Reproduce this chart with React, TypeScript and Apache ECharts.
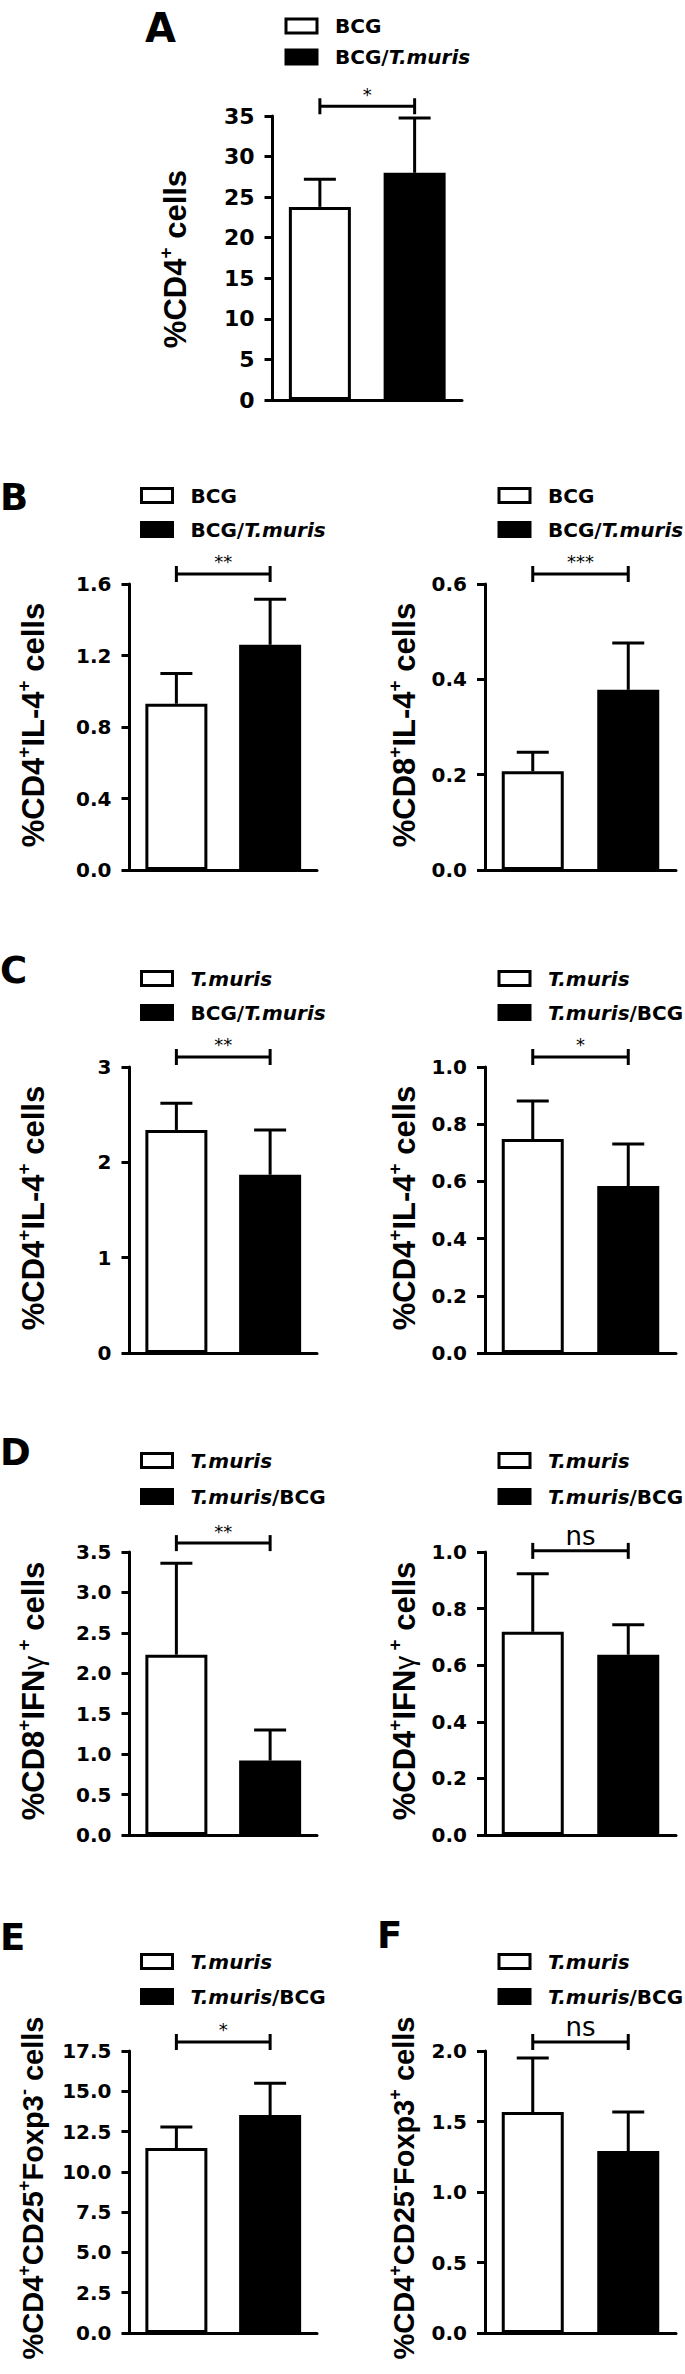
import React, { useEffect, useRef } from 'react';
import * as echarts from 'echarts';

// ---------------- data ----------------
const groupsA = ['BCG', 'BCG/T.muris'];
const groupsB = ['BCG', 'BCG/T.muris'];
const groupsC1 = ['T.muris', 'BCG/T.muris'];
const groupsTm = ['T.muris', 'T.muris/BCG'];

const meanA = [23.8, 28.0];
const semA = [3.4, 6.75];
const meanB1 = [0.93, 1.26];
const semB1 = [0.17, 0.255];
const meanB2 = [0.207, 0.378];
const semB2 = [0.04, 0.098];
const meanC1 = [2.34, 1.87];
const semC1 = [0.28, 0.47];
const meanC2 = [0.748, 0.584];
const semC2 = [0.133, 0.147];
const meanD1 = [2.23, 0.92];
const semD1 = [1.13, 0.38];
const meanD2 = [0.718, 0.637];
const semD2 = [0.205, 0.106];
const meanE = [11.48, 13.53];
const semE = [1.3, 1.97];
const meanF = [1.567, 1.29];
const semF = [0.383, 0.277];

const sigLabels = ['*', '**', '***', '**', '*', '**', 'ns', '*', 'ns'];
const sigLevels = [36.2, 1.656, 0.621, 3.105, 1.035, 3.61, 1.004, 18.06, 2.064];

const yMax = [35, 1.6, 0.6, 3, 1, 3.5, 1, 17.5, 2];
const yStep = [5, 0.4, 0.2, 1, 0.2, 0.5, 0.2, 2.5, 0.5];
const yDecimals = [0, 1, 1, 0, 1, 1, 1, 1, 1];

const yTitles = [
  '{n|%CD4}{s|+}{n| cells}',
  '{n|%CD4}{s|+}{n|IL-4}{s|+}{n| cells}',
  '{n|%CD8}{s|+}{n|IL-4}{s|+}{n| cells}',
  '{n|%CD4}{s|+}{n|IL-4}{s|+}{n| cells}',
  '{n|%CD4}{s|+}{n|IL-4}{s|+}{n| cells}',
  '{n|%CD8}{s|+}{n|IFN}{g|γ}{s| +}{n| cells}',
  '{n|%CD4}{s|+}{n|IFN}{g|γ}{s| +}{n| cells}',
  '{n|%CD4}{s|+}{n|CD25}{s|+}{n|Foxp3}{s|-}{n| cells}',
  '{n|%CD4}{s|+}{n|CD25}{s|-}{n|Foxp3}{s|+}{n| cells}',
];

const panelLetters = ['A', 'B', 'C', 'D', 'E', 'F'];

const panels = [
  { groups: groupsA, mean: meanA, sem: semA },
  { groups: groupsB, mean: meanB1, sem: semB1 },
  { groups: groupsB, mean: meanB2, sem: semB2 },
  { groups: groupsC1, mean: meanC1, sem: semC1 },
  { groups: groupsTm, mean: meanC2, sem: semC2 },
  { groups: groupsTm, mean: meanD1, sem: semD1 },
  { groups: groupsTm, mean: meanD2, sem: semD2 },
  { groups: groupsTm, mean: meanE, sem: semE },
  { groups: groupsTm, mean: meanF, sem: semF },
];

// ---------------- layout ----------------
const gridBoxes = [
  { left: 272.5, top: 116, width: 189.5, height: 284 },
  { left: 129.5, top: 584, width: 187.5, height: 286 },
  { left: 485, top: 584, width: 191, height: 286 },
  { left: 129.5, top: 1067, width: 187.5, height: 286 },
  { left: 485, top: 1067, width: 191, height: 286 },
  { left: 129.5, top: 1552, width: 187.5, height: 283 },
  { left: 485, top: 1552, width: 191, height: 283 },
  { left: 129.5, top: 2051, width: 187.5, height: 282 },
  { left: 485, top: 2051, width: 191, height: 282 },
];
const legendBoxes = [
  { left: 279.5, top: 9, gap: 7 },
  { left: 135, top: 478.5, gap: 10 },
  { left: 492.5, top: 478.5, gap: 10 },
  { left: 135, top: 961.5, gap: 10 },
  { left: 492.5, top: 961.5, gap: 10 },
  { left: 135, top: 1443.5, gap: 12 },
  { left: 492.5, top: 1443.5, gap: 12 },
  { left: 135, top: 1944.5, gap: 11 },
  { left: 492.5, top: 1944.5, gap: 11 },
];
// [centre x, centre y, font size]
const titleLayout = [
  [175, 259, 31], [33, 725, 31], [404, 725, 31], [33, 1208, 31], [404, 1208, 31],
  [33, 1691, 31], [404, 1691, 31], [33, 2188, 29], [404, 2188, 29],
];
const letterPos = [
  [145, 28, 40], [0, 497, 37], [0, 970, 37], [0, 1452, 37], [0, 1937, 37], [377, 1935, 37],
];

const BLACK = '#000';
const SANS = 'DejaVu Sans';
const ARIAL = 'Liberation Sans';

function buildOption() {
  const grid: any[] = [];
  const xAxis: any[] = [];
  const yAxis: any[] = [];
  const series: any[] = [];
  const legend: any[] = [];
  const graphic: any[] = [];

  panels.forEach((p, i) => {
    const g = gridBoxes[i];
    grid.push({ ...g, show: false, containLabel: false, outerBoundsMode: 'none' });
    xAxis.push({
      type: 'category', gridIndex: i, data: p.groups,
      axisLine: { show: true, lineStyle: { color: BLACK, width: 3 } },
      axisTick: { show: false }, axisLabel: { show: false }, splitLine: { show: false },
    });
    yAxis.push({
      type: 'value', gridIndex: i, min: 0, max: yMax[i], interval: yStep[i],
      axisLine: { show: true, lineStyle: { color: BLACK, width: 3 } },
      axisTick: { show: true, length: 8, lineStyle: { color: BLACK, width: 3 } },
      splitLine: { show: false },
      axisLabel: {
        color: BLACK, fontFamily: SANS, fontWeight: 'bold', fontSize: i === 0 ? 22 : 20, margin: 18,
        formatter: (v: number) => v.toFixed(yDecimals[i]),
      },
    });
    series.push({
      type: 'bar', name: p.groups[0], xAxisIndex: i, yAxisIndex: i,
      data: [p.mean[0], '-'], barWidth: 62, barGap: '-100%',
      itemStyle: { color: '#fff', borderColor: BLACK, borderWidth: 3 },
    });
    series.push({
      type: 'bar', name: p.groups[1], xAxisIndex: i, yAxisIndex: i,
      data: ['-', p.mean[1]], barWidth: 62, barGap: '-100%',
      itemStyle: { color: BLACK, borderColor: BLACK, borderWidth: 3 },
    });
    series.push({
      type: 'custom', xAxisIndex: i, yAxisIndex: i, clip: false, z: 5,
      data: p.mean.map((m, k) => [k, m, p.sem[k]]),
      renderItem: (params: any, api: any) => {
        const x = api.value(0);
        const m = api.value(1);
        const e = api.value(2);
        const b = api.coord([x, m]);
        const t = api.coord([x, m + e]);
        return {
          type: 'group',
          children: [
            { type: 'line', shape: { x1: b[0], y1: b[1], x2: t[0], y2: t[1] }, style: { stroke: BLACK, lineWidth: 3 } },
            { type: 'line', shape: { x1: t[0] - 16, y1: t[1], x2: t[0] + 16, y2: t[1] }, style: { stroke: BLACK, lineWidth: 3 } },
          ],
        };
      },
    });
    series.push({
      type: 'custom', xAxisIndex: i, yAxisIndex: i, clip: false, z: 5,
      data: [[0, sigLevels[i], 1]],
      renderItem: (params: any, api: any) => {
        const a = api.coord([api.value(0), api.value(1)]);
        const b = api.coord([api.value(2), api.value(1)]);
        const lbl = sigLabels[i];
        const isNs = lbl === 'ns';
        return {
          type: 'group',
          children: [
            { type: 'line', shape: { x1: a[0], y1: a[1], x2: b[0], y2: b[1] }, style: { stroke: BLACK, lineWidth: 3 } },
            { type: 'line', shape: { x1: a[0], y1: a[1] - 8, x2: a[0], y2: a[1] + 8 }, style: { stroke: BLACK, lineWidth: 3 } },
            { type: 'line', shape: { x1: b[0], y1: b[1] - 8, x2: b[0], y2: b[1] + 8 }, style: { stroke: BLACK, lineWidth: 3 } },
            {
              type: 'text', x: (a[0] + b[0]) / 2, y: a[1] - (isNs ? 15 : 12),
              style: {
                text: lbl, fill: BLACK, fontFamily: SANS, fontWeight: 'normal',
                fontSize: isNs ? 26 : 18, align: 'center', verticalAlign: 'middle',
              },
            },
          ],
        };
      },
    });

    const lb = legendBoxes[i];
    legend.push({
      orient: 'vertical', left: lb.left, top: lb.top, itemGap: lb.gap,
      itemWidth: 31, itemHeight: 14, icon: 'rect', selectedMode: false,
      data: p.groups.map((n, k) => ({
        name: n,
        itemStyle: { color: k === 0 ? '#fff' : BLACK, borderColor: BLACK, borderWidth: 3 },
      })),
      formatter: (n: string) => n.replace('T.muris', '{i|T.muris}'),
      textStyle: {
        color: BLACK, fontFamily: SANS, fontWeight: 'bold', fontSize: 20, lineHeight: 24,
        padding: [0, 0, 0, 13],
        rich: { i: { color: BLACK, fontFamily: SANS, fontWeight: 'bold', fontStyle: 'italic', fontSize: 20, lineHeight: 24 } },
      },
    });

    const tl = titleLayout[i];
    const fs = tl[2];
    graphic.push({
      type: 'text', x: tl[0], y: tl[1], rotation: Math.PI / 2,
      style: {
        text: yTitles[i], align: 'center', verticalAlign: 'middle', fill: BLACK,
        rich: {
          n: { fontFamily: ARIAL, fontWeight: 'bold', fontSize: fs, lineHeight: fs + 7, fill: BLACK },
          s: { fontFamily: ARIAL, fontWeight: 'bold', fontSize: Math.round(fs * 0.62), lineHeight: Math.round(fs * 0.62), verticalAlign: 'top', fill: BLACK },
          g: { fontFamily: ARIAL, fontWeight: 'normal', fontSize: fs - 3, lineHeight: fs + 7, fill: BLACK },
        },
      },
    });
  });

  panelLetters.forEach((t, k) => {
    const lp = letterPos[k];
    graphic.push({
      type: 'text', x: lp[0], y: lp[1],
      style: { text: t, fontFamily: SANS, fontWeight: 'bold', fontSize: lp[2], fill: BLACK, align: 'left', verticalAlign: 'middle' },
    });
  });

  return {
    animation: false,
    backgroundColor: '#fff',
    grid, xAxis, yAxis, series, legend, graphic,
  };
}

export default function App() {
  const ref = useRef<HTMLDivElement>(null);
  useEffect(() => {
    if (!ref.current) return;
    const chart = echarts.init(ref.current, null, { renderer: 'svg' });
    chart.setOption(buildOption() as any);
    return () => chart.dispose();
  }, []);
  return (
    <div
      ref={ref}
      style={{ position: 'absolute', left: 0, top: 0, width: 685, height: 2374 }}
    />
  );
}
